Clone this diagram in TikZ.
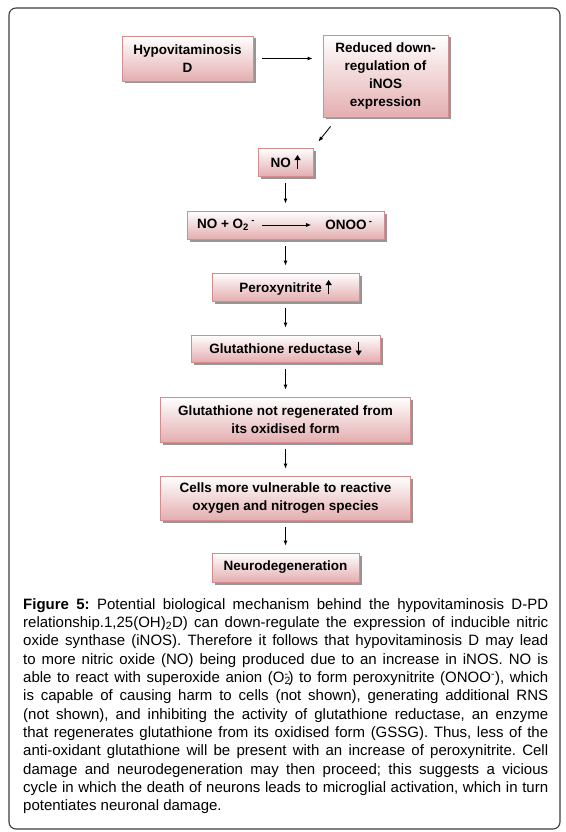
\documentclass[tikz,border=0pt]{standalone}
\usepackage{fontspec}
\setmainfont{Liberation Sans}
\usetikzlibrary{arrows.meta,shadows}
\definecolor{boxline}{RGB}{212,140,142}
\definecolor{boxpink}{RGB}{228,174,176}
\definecolor{shadowgray}{RGB}{150,150,150}
\definecolor{framegray}{RGB}{60,60,60}

\begin{document}
\begin{tikzpicture}[x=1pt,y=-1pt,
	flowbox/.style={draw=boxline,line width=0.8pt,top color=white,bottom color=boxpink,
		drop shadow={shadow xshift=2.5pt,shadow yshift=-2.5pt,fill=shadowgray,opacity=1},
		align=center,inner sep=0pt,font=\fontsize{13.5}{18.3}\selectfont\bfseries},
	boxtext/.style={inner sep=0pt,font=\fontsize{13.5}{18.3}\selectfont\bfseries},
	arr/.style={-{Latex[length=5pt,width=4pt]},line width=0.9pt,shorten <=7pt,shorten >=7pt},
	captext/.style={anchor=north west,inner sep=0pt,text width=525pt,align=justify,
		font=\fontsize{15}{18.33}\selectfont\frenchspacing}]

\def\UP{\tikz[baseline=0pt]\draw[line width=1.7pt,-{Triangle[length=5pt,width=6pt]}] (0pt,-2pt) -- (0pt,12pt);}
\def\DOWN{\tikz[baseline=0pt]\draw[line width=1.7pt,-{Triangle[length=5pt,width=6pt]}] (0pt,12pt) -- (0pt,-2pt);}
	\useasboundingbox (0,0) rectangle (565,832);
	\draw[framegray,line width=1.1pt,rounded corners=7pt] (9,8) rectangle (560,829);

	\node[flowbox,minimum width=131pt,minimum height=45pt] (hypo) at (187.5,58.5) {Hypovitaminosis\\D};
	\node[flowbox,minimum width=125pt,minimum height=82pt] (reduced) at (385.5,76) {Reduced down-\\regulation of\\iNOS\\expression};
	\node[flowbox,minimum width=55pt,minimum height=28pt] (no) at (285.5,162) {NO~\UP};
	\node[flowbox,minimum width=197pt,minimum height=28pt] (react) at (285.5,225) {};
	\node[boxtext] (nox) at (226,225) {NO + O\textsubscript{2}\,\textsuperscript{-}};
	\node[boxtext] (onoo) at (349,225) {ONOO\,\textsuperscript{-}};
	\node[flowbox,minimum width=147pt,minimum height=28pt] (perox) at (285.5,287) {Peroxynitrite~\UP};
	\node[flowbox,minimum width=189pt,minimum height=27pt] (gr) at (285.5,348.5) {Glutathione reductase~\DOWN};
	\node[flowbox,minimum width=250pt,minimum height=45pt] (notregen) at (285.5,419.5) {Glutathione not regenerated from\\its oxidised form};
	\node[flowbox,minimum width=250pt,minimum height=44pt] (cells) at (285.5,498) {Cells more vulnerable to reactive\\oxygen and nitrogen species};
	\node[flowbox,minimum width=147pt,minimum height=29pt] (neuro) at (285.5,567.5) {Neurodegeneration};

	\draw[arr,shorten <=9pt,shorten >=10pt] (hypo.east) -- (hypo.east -| reduced.west);
	\draw[arr,shorten <=0pt,shorten >=0pt] ([xshift=8pt,yshift=-9pt]reduced.south west) -- ([xshift=5pt,yshift=6pt]no.north east);
	\draw[arr] (no) -- (react);
	\draw[arr,shorten >=14pt] (nox) -- (onoo);
	\draw[arr] (react) -- (perox);
	\draw[arr] (perox) -- (gr);
	\draw[arr] (gr) -- (notregen);
	\draw[arr] (notregen) -- (cells);
	\draw[arr] (cells) -- (neuro);

	\node[captext] (caption) at (23,598) {\textbf{Figure 5:} Potential biological mechanism behind the hypovitaminosis D-PD\linebreak
relationship.1,25(OH)\textsubscript{2}D) can down-regulate the expression of inducible nitric\linebreak
oxide synthase (iNOS). Therefore it follows that hypovitaminosis D may lead\linebreak
to more nitric oxide (NO) being produced due to an increase in iNOS. NO is\linebreak
able to react with superoxide anion (O\rlap{\textsubscript{2}}\textsuperscript{-}) to form peroxynitrite (ONOO\textsuperscript{-}), which\linebreak
is capable of causing harm to cells (not shown), generating additional RNS\linebreak
(not shown), and inhibiting the activity of glutathione reductase, an enzyme\linebreak
that regenerates glutathione from its oxidised form (GSSG). Thus, less of the\linebreak
anti-oxidant glutathione will be present with an increase of peroxynitrite. Cell\linebreak
damage and neurodegeneration may then proceed; this suggests a vicious\linebreak
cycle in which the death of neurons leads to microglial activation, which in turn\linebreak
potentiates neuronal damage.};

\end{tikzpicture}
\end{document}
